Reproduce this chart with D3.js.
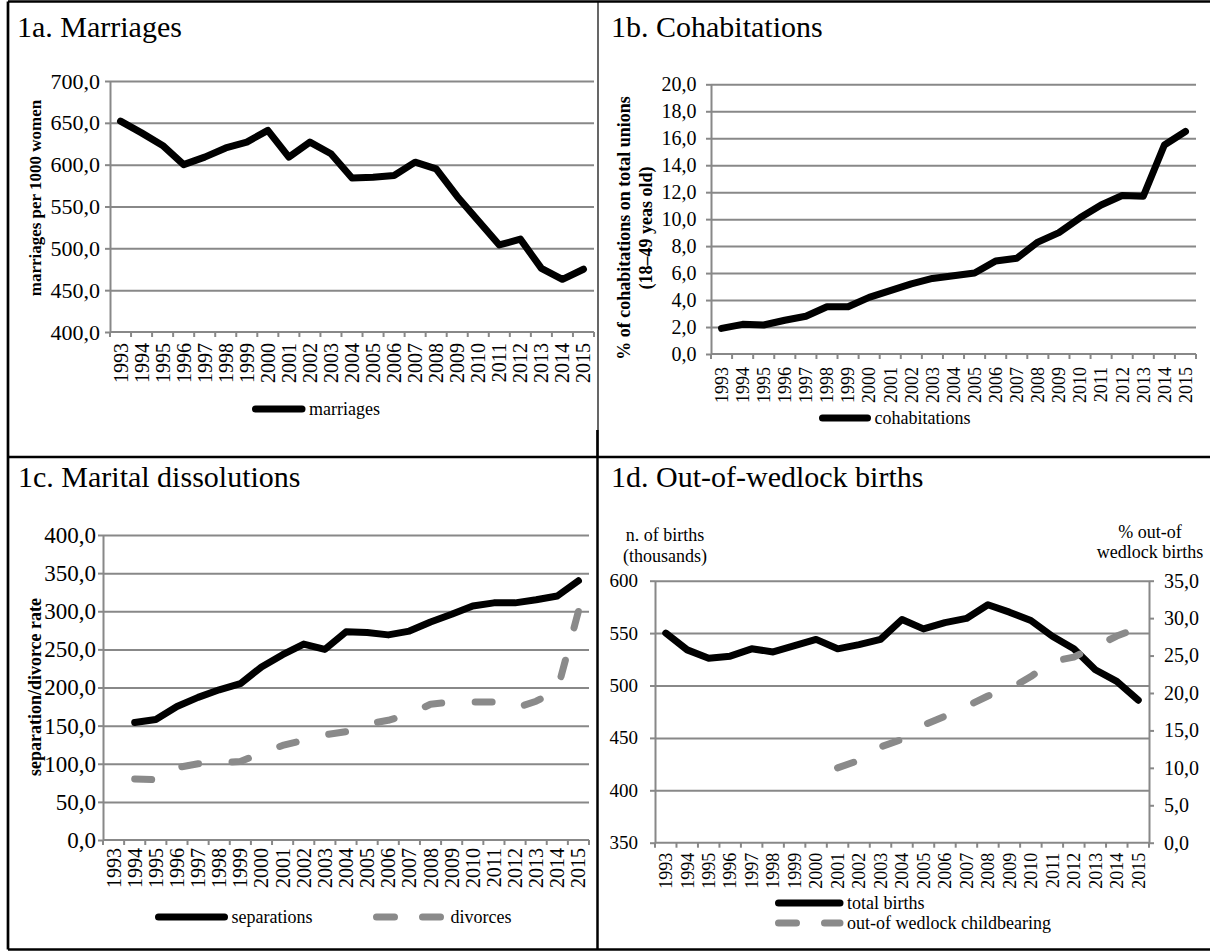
<!DOCTYPE html>
<html><head><meta charset="utf-8">
<script src="https://cdn.jsdelivr.net/npm/d3@7"></script>
<style>
body{margin:0;background:#fff;}
svg{display:block;}
text{font-family:"Liberation Serif","Times New Roman",serif;fill:#000;}
</style></head><body>
<svg id="chart" width="1210" height="951"></svg>
<script>
const years = ["1993","1994","1995","1996","1997","1998","1999","2000","2001","2002","2003","2004","2005","2006","2007","2008","2009","2010","2011","2012","2013","2014","2015"];
const marriages = [652,638,623,600,609,620,627,641,609,627,613,584,585,587,603,595,562,533,504,511,476,463,475];
const cohabitations = [1.9,2.2,2.15,2.5,2.8,3.5,3.5,4.2,4.7,5.2,5.6,5.8,6.0,6.9,7.1,8.3,9.0,10.1,11.05,11.75,11.7,15.5,16.5];
const separations = [null,154,158,175,187,197,205,227,243,257,250,273,272,269,274,286,296,307,311,311,315,320,340];
const divorces = [null,80,79,95,100,101,103,114,124,131,138,142,152,157,165,178,181,181,181,173,182,196,300];
const totalBirths = [550,534,526,528,535,532,538,544,535,539,544,563,554,560,564,577,570,562,547,535,515,504,486];
const outOfWedlock = [null,null,null,null,null,null,null,null,10.0,11.0,12.8,13.8,15.7,16.9,18.2,19.6,20.5,22.2,24.2,24.8,26.2,27.6,28.7];
const ticks1a = [400,450,500,550,600,650,700];
const ticks1b = [0,2,4,6,8,10,12,14,16,18,20];
const ticks1c = [0,50,100,150,200,250,300,350,400];
const ticks1dLeft = [350,400,450,500,550,600];
const ticks1dRight = [0,5,10,15,20,25,30,35];

const svg = d3.select("#chart");
const GRID = "#888888";
const LW = 7;
const comma1 = d => d3.format(".1f")(d).replace(".", ",");
const intFmt = d3.format("d");

function drawPanel(o) {
  const g = svg.append("g");
  const x = d3.scaleBand().domain(years).range([o.x0, o.x1]).padding(0);
  const y = d3.scaleLinear().domain(o.domain).range([o.yb, o.yt]);
  const bw = x.bandwidth();
  g.append("g").attr("transform", `translate(${o.x0},0)`)
    .call(d3.axisLeft(y).tickValues(o.ticks.slice(1)).tickSize(-(o.x1 - o.x0)).tickFormat(""))
    .call(s => s.select(".domain").remove())
    .call(s => s.selectAll("line").attr("stroke", GRID).attr("stroke-width", 2));
  g.append("line").attr("x1", o.x0).attr("x2", o.x1).attr("y1", y(o.domain[0])).attr("y2", y(o.domain[0]))
    .attr("stroke", GRID).attr("stroke-width", 2);
  const edges = years.map(d => x(d)).concat([o.x1]);
  g.append("g").selectAll("line").data(edges).join("line")
    .attr("x1", d => d).attr("x2", d => d).attr("y1", o.yb).attr("y2", o.yb + 5)
    .attr("stroke", GRID).attr("stroke-width", 2);
  const xa = g.append("g").attr("transform", `translate(0,${o.yb})`)
    .call(d3.axisBottom(x).tickSize(0).tickSizeOuter(0));
  xa.select(".domain").remove();
  xa.selectAll("text").attr("transform", "rotate(-90)").attr("text-anchor", "end")
    .attr("x", -o.xGap).attr("y", 0).attr("dy", "0.35em")
    .style("font-size", o.xFont + "px").style("font-family", '"Liberation Serif",serif').attr("fill", "#000");
  const ya = g.append("g").attr("transform", `translate(${o.x0},0)`)
    .call(d3.axisLeft(y).tickValues(o.ticks).tickSize(5).tickSizeOuter(0).tickPadding(o.yPad).tickFormat(o.fmt));
  ya.select(".domain").attr("stroke", GRID).attr("stroke-width", 2);
  ya.selectAll("line").attr("stroke", GRID).attr("stroke-width", 2);
  ya.selectAll("text").style("font-size", o.yFont + "px").style("font-family", '"Liberation Serif",serif').attr("fill", "#000");
  return {x, y, bw, g};
}

function drawLine(p, values, yScale, color, dash) {
  const line = d3.line().defined(d => d != null)
    .x((d, i) => p.x(years[i]) + p.bw / 2).y(d => yScale(d));
  p.g.append("path").datum(values).attr("d", line).attr("fill", "none")
    .attr("stroke", color).attr("stroke-width", LW)
    .attr("stroke-linecap", "round").attr("stroke-linejoin", "round")
    .attr("stroke-dasharray", dash || null);
}

function legendItem(xa, xb, yy, label, color, dash) {
  svg.append("line").attr("x1", xa).attr("x2", xb).attr("y1", yy).attr("y2", yy)
    .attr("stroke", color).attr("stroke-width", LW).attr("stroke-linecap", "round")
    .attr("stroke-dasharray", dash || null);
  svg.append("text").attr("x", xb + 7).attr("y", yy).attr("dy", "0.33em")
    .style("font-size", "18px").text(label);
}

function title(xx, yy, t) {
  svg.append("text").attr("x", xx).attr("y", yy).style("font-size", "30px").text(t);
}

function yTitle(cx, cy, lines, size, lh) {
  const t = svg.append("text").attr("transform", `translate(${cx},${cy}) rotate(-90)`)
    .attr("text-anchor", "middle").style("font-size", size + "px").style("font-weight", "bold");
  lines.forEach((l, i) => {
    t.append("tspan").attr("x", 0).attr("y", (i - (lines.length - 1) / 2) * lh).attr("dy", "0.35em").text(l);
  });
}

const DASH = "17,33.5";
const LDASH = "18,28";
const DGRAY = "#8a8a8a";

// table borders: [x1, y1, x2, y2, width]
const B = [[8,1.5,1210,1.5,2.7],[8,457,1210,457,2.7],[8,949.5,1210,949.5,2.7],[8,1.5,8,949.5,2.7],
           [598,1.5,598,430,1.2],[597.5,430,597.5,457,2.7],[597.5,457,597.5,949.5,2.5]];
svg.append("g").selectAll("line").data(B).join("line")
  .attr("x1", d => d[0]).attr("y1", d => d[1]).attr("x2", d => d[2]).attr("y2", d => d[3])
  .attr("stroke", "#000").attr("stroke-width", d => d[4]);

// 1a
title(17, 37, "1a. Marriages");
const pa = drawPanel({x0:110, x1:594, yt:81, yb:332, domain:[400,700], ticks:ticks1a, fmt:comma1, yPad:5, yFont:22, xFont:20, xGap:11});
drawLine(pa, marriages, pa.y, "#000");
yTitle(35, 198, ["marriages per 1000 women"], 17, 20);
legendItem(255.5, 302, 409, "marriages", "#000");

// 1b
title(611, 37, "1b. Cohabitations");
const pb = drawPanel({x0:711, x1:1196, yt:84.3, yb:354, domain:[0,20], ticks:ticks1b, fmt:comma1, yPad:9.5, yFont:20, xFont:18, xGap:13});
drawLine(pb, cohabitations, pb.y, "#000");
yTitle(634.5, 228, ["% of cohabitations on total unions", "(18\u201349 yeas old)"], 18, 21.5);
legendItem(822.5, 867.5, 418, "cohabitations", "#000");

// 1c
title(18, 487, "1c. Marital dissolutions");
const pc = drawPanel({x0:103, x1:589, yt:535, yb:840, domain:[0,400], ticks:ticks1c, fmt:comma1, yPad:2, yFont:23, xFont:20, xGap:8});
drawLine(pc, separations, pc.y, "#000");
drawLine(pc, divorces, pc.y, DGRAY, DASH);
yTitle(35, 687, ["separation/divorce rate"], 18, 20);
legendItem(158.5, 224.5, 917, "separations", "#000");
legendItem(376.5, 443.5, 917, "divorces", DGRAY, LDASH);

// 1d
title(611, 487, "1d. Out-of-wedlock births");
const pd = drawPanel({x0:655, x1:1149, yt:580.7, yb:842.7, domain:[350,600], ticks:ticks1dLeft, fmt:intFmt, yPad:12, yFont:19, xFont:18, xGap:10});
const y2 = d3.scaleLinear().domain([0,35]).range([842.7, 580.7]);
const ra = pd.g.append("g").attr("transform", "translate(1149,0)")
  .call(d3.axisRight(y2).tickValues(ticks1dRight).tickSize(5).tickSizeOuter(0).tickPadding(10).tickFormat(comma1));
ra.select(".domain").attr("stroke", GRID).attr("stroke-width", 2);
ra.selectAll("line").attr("stroke", GRID).attr("stroke-width", 2);
ra.selectAll("text").style("font-size", "20px").style("font-family", '"Liberation Serif",serif').attr("fill", "#000");
drawLine(pd, totalBirths, pd.y, "#000");
drawLine(pd, outOfWedlock, y2, DGRAY, DASH);
svg.append("text").attr("x", 665).attr("y", 541).attr("text-anchor", "middle").style("font-size", "18px").text("n. of births");
svg.append("text").attr("x", 665).attr("y", 562).attr("text-anchor", "middle").style("font-size", "18px").text("(thousands)");
svg.append("text").attr("x", 1150).attr("y", 538).attr("text-anchor", "middle").style("font-size", "18px").text("% out-of");
svg.append("text").attr("x", 1150).attr("y", 558).attr("text-anchor", "middle").style("font-size", "18px").text("wedlock births");
legendItem(778.5, 840, 903, "total births", "#000");
legendItem(778.5, 840, 923, "out-of wedlock childbearing", DGRAY, LDASH);
</script>
</body></html>
